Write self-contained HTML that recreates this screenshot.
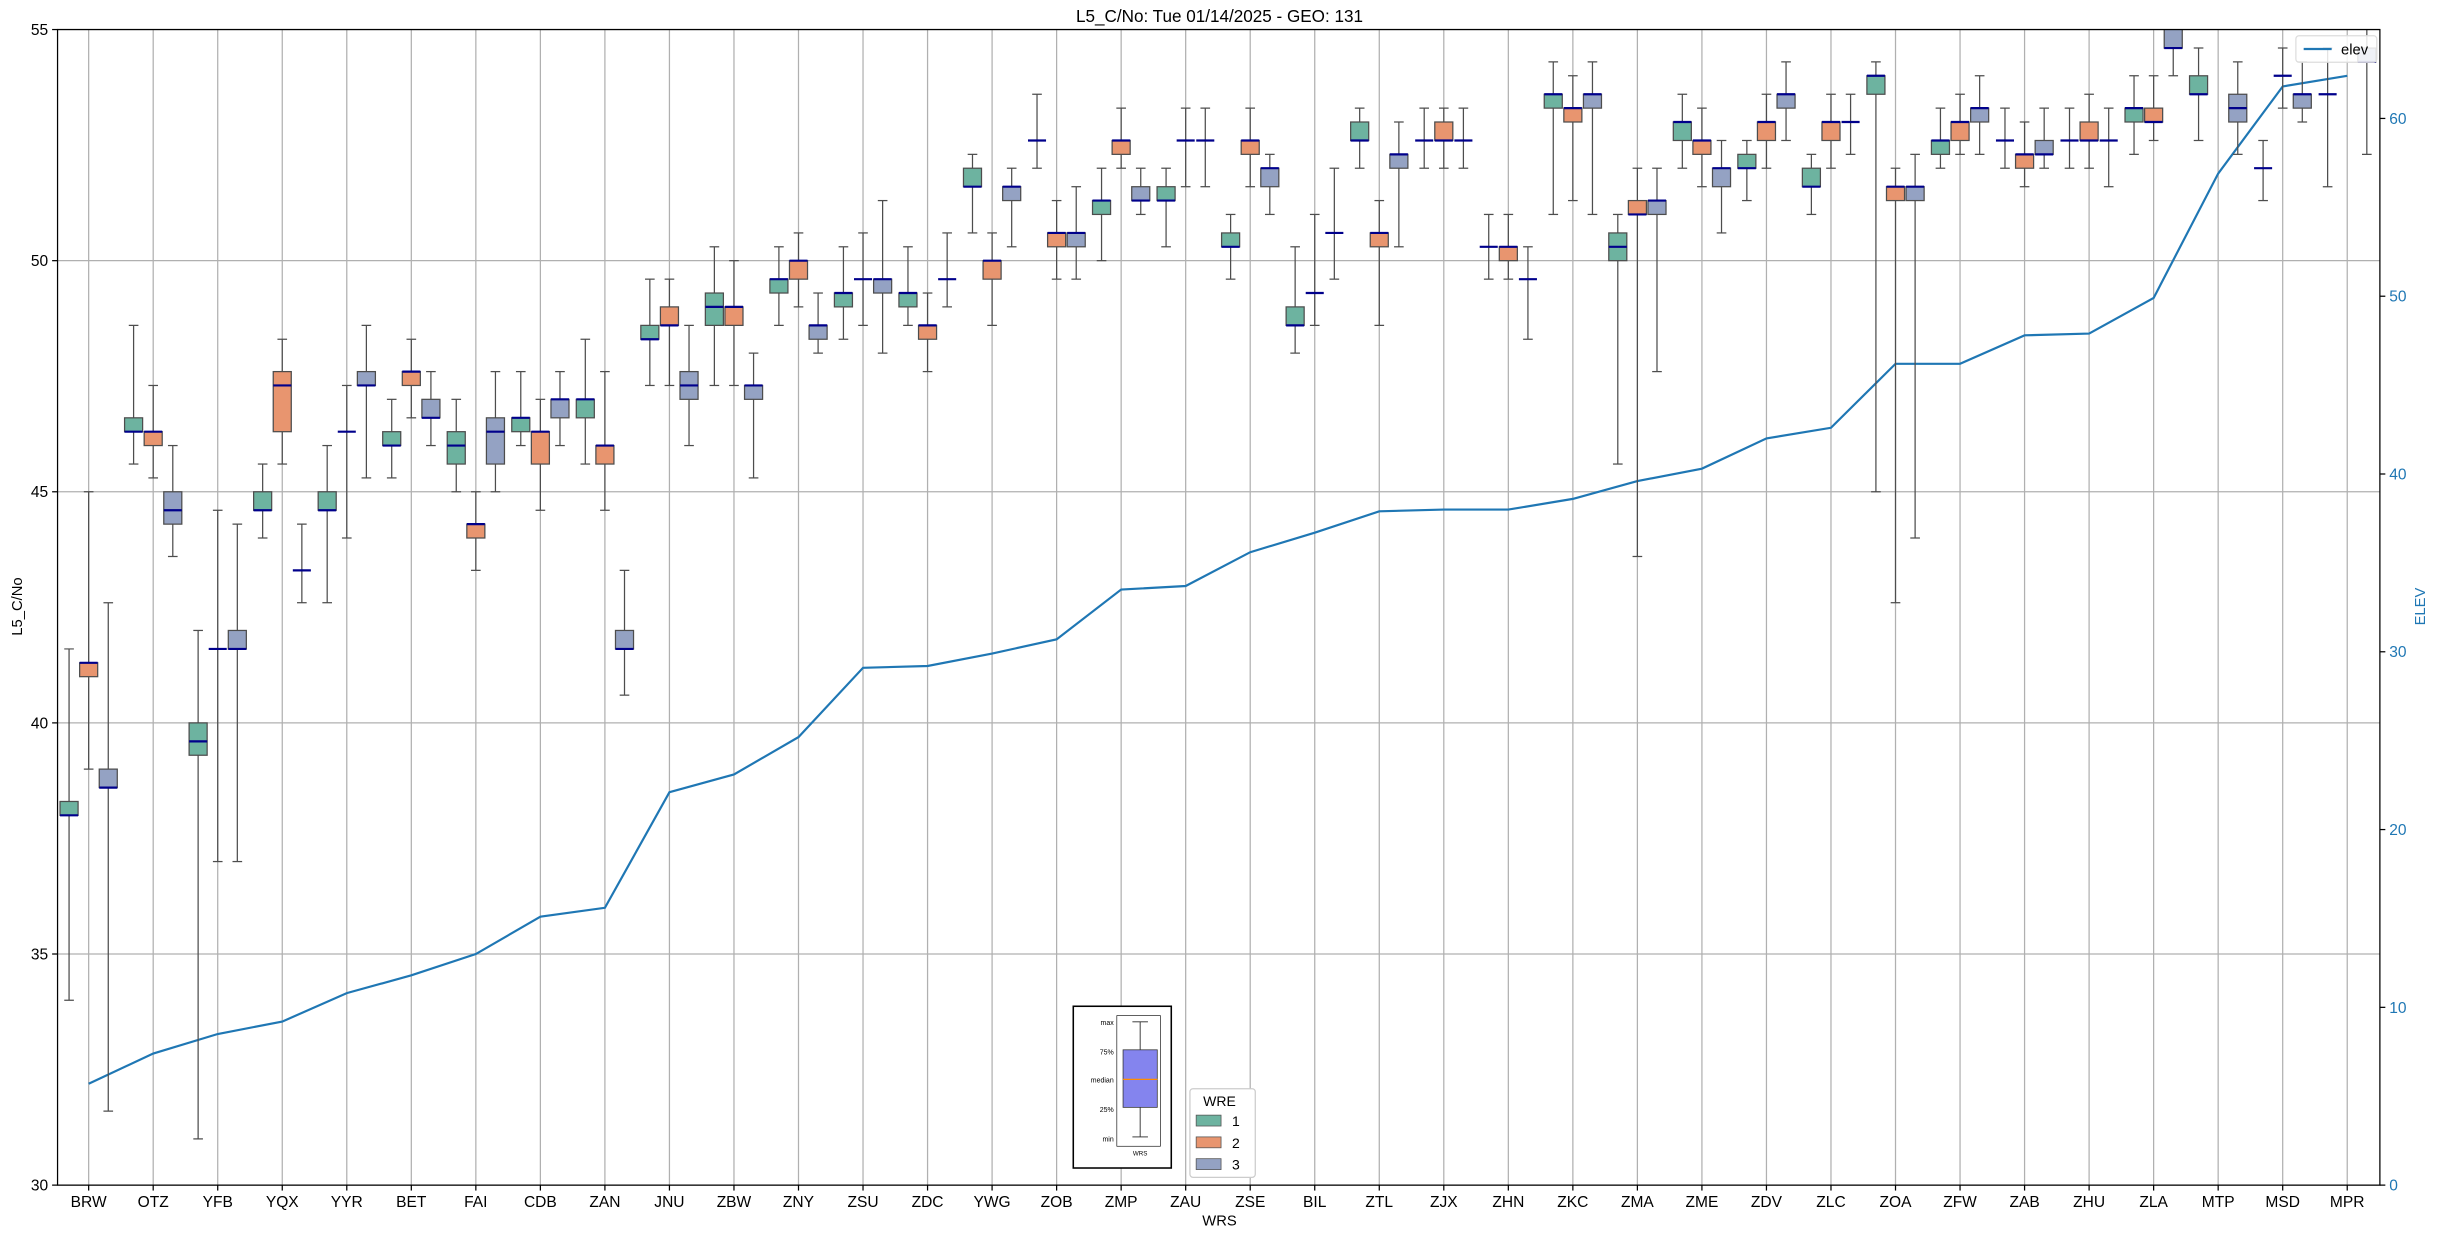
<!DOCTYPE html>
<html><head><meta charset="utf-8"><style>
html,body{margin:0;padding:0;background:#fff}
svg{display:block;font-family:"Liberation Sans","DejaVu Sans",sans-serif}
</style></head><body>
<svg id="chart" width="2439" height="1238" viewBox="0 0 1568 796" preserveAspectRatio="none" xmlns="http://www.w3.org/2000/svg">
<defs><clipPath id="plotclip"><rect x="37" y="19" width="1493" height="743"/></clipPath></defs>
<rect x="0" y="0" width="1568" height="796" fill="#fff"/>
<text x="784" y="14" font-size="11" text-anchor="middle">L5_C/No: Tue 01/14/2025 - GEO: 131</text>
<g id="grid"></g>
<g id="elevg" clip-path="url(#plotclip)"></g>
<g id="boxes" clip-path="url(#plotclip)"></g>
<rect x="37" y="19" width="1493" height="743" fill="none" stroke="#000" stroke-width="0.8"/>
<g id="axes"></g>
<text x="0" y="0" font-size="9.5" text-anchor="middle" transform="translate(14,390) rotate(-90)">L5_C/No</text>
<text x="784" y="788" font-size="9.5" text-anchor="middle">WRS</text>
<text x="0" y="0" font-size="9.5" fill="#1f77b4" text-anchor="middle" transform="translate(1559,390) rotate(-90)">ELEV</text>
<g>
<rect x="690" y="647" width="63" height="104" fill="#fff" stroke="#000" stroke-width="1"/>
<rect x="718" y="653" width="28" height="84" fill="none" stroke="#000" stroke-width="0.4"/>
<line x1="733" y1="657" x2="733" y2="675" stroke="#333" stroke-width="0.6"/>
<line x1="733" y1="712" x2="733" y2="731" stroke="#333" stroke-width="0.6"/>
<line x1="728" y1="657" x2="738" y2="657" stroke="#333" stroke-width="0.6"/>
<line x1="728" y1="731" x2="738" y2="731" stroke="#333" stroke-width="0.6"/>
<rect x="722" y="675" width="22" height="37" fill="#8484ee" stroke="#333" stroke-width="0.5"/>
<line x1="722" y1="694" x2="744" y2="694" stroke="#ff8c00" stroke-width="0.8"/>
<g font-size="4.5" text-anchor="end"><text x="716" y="659">max</text><text x="716" y="678">75%</text><text x="716" y="696">median</text><text x="716" y="715">25%</text><text x="716" y="734">min</text></g>
<text x="733" y="743" font-size="4" text-anchor="middle">WRS</text>
</g>
<g>
<rect x="765" y="700" width="42" height="57" rx="2" fill="#fff" stroke="#ccc" stroke-width="0.8"/>
<text x="784" y="711" font-size="9" text-anchor="middle">WRE</text>
<rect x="769" y="717" width="16" height="7" fill="#6db3a0" stroke="#555" stroke-width="0.5"/>
<text x="792" y="724" font-size="9">1</text>
<rect x="769" y="731" width="16" height="7" fill="#e8956f" stroke="#555" stroke-width="0.5"/>
<text x="792" y="738" font-size="9">2</text>
<rect x="769" y="745" width="16" height="7" fill="#94a2c3" stroke="#555" stroke-width="0.5"/>
<text x="792" y="752" font-size="9">3</text>
</g>
<g>
<rect x="1476" y="23" width="52" height="17" rx="2" fill="#fff" fill-opacity="0.85" stroke="#ddd" stroke-width="0.8"/>
<line x1="1481" y1="31.5" x2="1499" y2="31.5" stroke="#1f77b4" stroke-width="1.5"/>
<text x="1505" y="35" font-size="9.5">elev</text>
</g>
</svg>
<script>
const stations = ["BRW","OTZ","YFB","YQX","YYR","BET","FAI","CDB","ZAN","JNU","ZBW","ZNY","ZSU","ZDC","YWG","ZOB","ZMP","ZAU","ZSE","BIL","ZTL","ZJX","ZHN","ZKC","ZMA","ZME","ZDV","ZLC","ZOA","ZFW","ZAB","ZHU","ZLA","MTP","MSD","MPR"];
const elev = [5.7,7.4,8.5,9.2,10.8,11.8,13.0,15.1,15.6,22.1,23.1,25.2,29.1,29.2,29.9,30.7,33.5,33.7,35.6,36.7,37.9,38.0,38.0,38.6,39.6,40.3,42.0,42.6,46.2,46.2,47.8,47.9,49.9,56.9,61.8,62.4];
const wre1 = [[34.0,38.0,38.0,38.3,41.6],[45.6,46.3,46.3,46.6,48.6],[31.0,39.3,39.6,40.0,42.0],[44.0,44.6,44.6,45.0,45.6],[42.6,44.6,44.6,45.0,46.0],[45.3,46.0,46.0,46.3,47.0],[45.0,45.6,46.0,46.3,47.0],[46.0,46.3,46.6,46.6,47.6],[45.6,46.6,47.0,47.0,48.3],[47.3,48.3,48.3,48.6,49.6],[47.3,48.6,49.0,49.3,50.3],[48.6,49.3,49.6,49.6,50.3],[48.3,49.0,49.3,49.3,50.3],[48.6,49.0,49.3,49.3,50.3],[50.6,51.6,51.6,52.0,52.3],[52.0,52.6,52.6,52.6,53.6],[50.0,51.0,51.3,51.3,52.0],[50.3,51.3,51.3,51.6,52.0],[49.6,50.3,50.3,50.6,51.0],[48.0,48.6,48.6,49.0,50.3],[52.0,52.6,52.6,53.0,53.3],[52.0,52.6,52.6,52.6,53.3],[49.6,50.3,50.3,50.3,51.0],[51.0,53.3,53.6,53.6,54.3],[45.6,50.0,50.3,50.6,51.0],[52.0,52.6,53.0,53.0,53.6],[51.3,52.0,52.0,52.3,52.6],[51.0,51.6,51.6,52.0,52.3],[45.0,53.6,54.0,54.0,54.3],[52.0,52.3,52.6,52.6,53.3],[52.0,52.6,52.6,52.6,53.3],[52.0,52.6,52.6,52.6,53.3],[52.3,53.0,53.3,53.3,54.0],[52.6,53.6,53.6,54.0,54.6],[51.3,52.0,52.0,52.0,52.6],[51.6,53.6,53.6,53.6,54.6]];
const wre2 = [[39.0,41.0,41.3,41.3,45.0],[45.3,46.0,46.3,46.3,47.3],[37.0,41.6,41.6,41.6,44.6],[45.6,46.3,47.3,47.6,48.3],[44.0,46.3,46.3,46.3,47.3],[46.6,47.3,47.6,47.6,48.3],[43.3,44.0,44.3,44.3,45.0],[44.6,45.6,46.3,46.3,47.0],[44.6,45.6,46.0,46.0,47.6],[47.3,48.6,48.6,49.0,49.6],[47.3,48.6,49.0,49.0,50.0],[49.0,49.6,50.0,50.0,50.6],[48.6,49.6,49.6,49.6,50.6],[47.6,48.3,48.6,48.6,49.3],[48.6,49.6,50.0,50.0,50.6],[49.6,50.3,50.6,50.6,51.3],[52.0,52.3,52.6,52.6,53.3],[51.6,52.6,52.6,52.6,53.3],[51.6,52.3,52.6,52.6,53.3],[48.6,49.3,49.3,49.3,51.0],[48.6,50.3,50.6,50.6,51.3],[52.0,52.6,52.6,53.0,53.3],[49.6,50.0,50.3,50.3,51.0],[51.3,53.0,53.3,53.3,54.0],[43.6,51.0,51.0,51.3,52.0],[51.6,52.3,52.6,52.6,53.3],[52.0,52.6,53.0,53.0,53.6],[52.0,52.6,53.0,53.0,53.6],[42.6,51.3,51.6,51.6,52.0],[52.3,52.6,53.0,53.0,53.6],[51.6,52.0,52.3,52.3,53.0],[52.0,52.6,52.6,53.0,53.6],[52.6,53.0,53.0,53.3,54.0],null,[53.3,54.0,54.0,54.0,54.6],null];
const wre3 = [[31.6,38.6,38.6,39.0,42.6],[43.6,44.3,44.6,45.0,46.0],[37.0,41.6,41.6,42.0,44.3],[42.6,43.3,43.3,43.3,44.3],[45.3,47.3,47.3,47.6,48.6],[46.0,46.6,46.6,47.0,47.6],[45.0,45.6,46.3,46.6,47.6],[46.0,46.6,47.0,47.0,47.6],[40.6,41.6,41.6,42.0,43.3],[46.0,47.0,47.3,47.6,48.6],[45.3,47.0,47.3,47.3,48.0],[48.0,48.3,48.6,48.6,49.3],[48.0,49.3,49.6,49.6,51.3],[49.0,49.6,49.6,49.6,50.6],[50.3,51.3,51.6,51.6,52.0],[49.6,50.3,50.6,50.6,51.6],[51.0,51.3,51.3,51.6,52.0],[51.6,52.6,52.6,52.6,53.3],[51.0,51.6,52.0,52.0,52.3],[49.6,50.6,50.6,50.6,52.0],[50.3,52.0,52.3,52.3,53.0],[52.0,52.6,52.6,52.6,53.3],[48.3,49.6,49.6,49.6,50.3],[51.0,53.3,53.6,53.6,54.3],[47.6,51.0,51.3,51.3,52.0],[50.6,51.6,52.0,52.0,52.6],[52.6,53.3,53.6,53.6,54.3],[52.3,53.0,53.0,53.0,53.6],[44.0,51.3,51.6,51.6,52.3],[52.3,53.0,53.3,53.3,54.0],[52.0,52.3,52.3,52.6,53.3],[51.6,52.6,52.6,52.6,53.3],[54.0,54.6,54.6,55.3,55.6],[52.3,53.0,53.3,53.6,54.3],[53.0,53.3,53.6,53.6,54.3],[52.3,54.3,54.3,54.6,55.6]];
const yTicks = [30,35,40,45,50,55];
const elevTicks = [0,10,20,30,40,50,60];

const NS = "http://www.w3.org/2000/svg";
const L = 37, R = 1530, T = 19, B = 762;
function xPos(i){ return 57 + i * (1509 - 57) / 35; }
function yPos(v){ return B - (v - 30) / 25 * (B - T); }
function yElev(v){ return B - v / 65 * (B - T); }
function mk(tag, attrs, parent){
  const e = document.createElementNS(NS, tag);
  for (const k in attrs) e.setAttribute(k, attrs[k]);
  parent.appendChild(e);
  return e;
}
const grid = document.getElementById('grid');
const axes = document.getElementById('axes');
yTicks.forEach(v => {
  const g = mk('line', {x1:L, x2:R, y1:yPos(v), y2:yPos(v), stroke:'#b0b0b0', 'stroke-width':0.8}, grid);
  
  
  mk('line', {x1:L-3.5, x2:L, y1:yPos(v), y2:yPos(v), stroke:'#000', 'stroke-width':0.8}, axes);
  const t = mk('text', {x:L-6, y:yPos(v)+3.5, 'font-size':10, 'text-anchor':'end'}, axes);
  t.textContent = v;
  
  
});
elevTicks.forEach(v => {
  mk('line', {x1:R, x2:R+3.5, y1:yElev(v), y2:yElev(v), stroke:'#000', 'stroke-width':0.8}, axes);
  const t = mk('text', {x:R+6, y:yElev(v)+3.5, 'font-size':10, fill:'#1f77b4'}, axes);
  t.textContent = v;
  
  
});
stations.forEach((s, i) => {
  const g = mk('line', {x1:xPos(i), x2:xPos(i), y1:T, y2:B, stroke:'#b0b0b0', 'stroke-width':0.8}, grid);
  
  
  mk('line', {x1:xPos(i), x2:xPos(i), y1:B, y2:B+3.5, stroke:'#000', 'stroke-width':0.8}, axes);
  const t = mk('text', {x:xPos(i), y:B+14, 'font-size':10, 'text-anchor':'middle'}, axes);
  t.textContent = s;
  
  
});
// elevation line
const pts = elev.map((v, i) => xPos(i).toFixed(2) + ',' + yElev(v).toFixed(2)).join(' ');
const eline = mk('polyline', {points:pts, fill:'none', stroke:'#1f77b4', 'stroke-width':1.4}, document.getElementById('elevg'));


// boxes
const boxesG = document.getElementById('boxes');
const series = [wre1, wre2, wre3];
const colors = ['#6db3a0', '#e8956f', '#94a2c3'];
const offs = [-12.6, 0, 12.6];
const bw = 11.6, cw = 6.2;
series.forEach((ser, h) => {
  ser.forEach((d, i) => {
    if (!d) return;
    const cx = xPos(i) + offs[h];
    const g = mk('g', {}, boxesG);
    
    
    const st = {stroke:'#4d4d4d', 'stroke-width':0.8};
    mk('line', Object.assign({x1:cx, x2:cx, y1:yPos(d[4]), y2:yPos(d[3])}, st), g);
    mk('line', Object.assign({x1:cx, x2:cx, y1:yPos(d[1]), y2:yPos(d[0])}, st), g);
    mk('line', Object.assign({x1:cx-cw/2, x2:cx+cw/2, y1:yPos(d[4]), y2:yPos(d[4])}, st), g);
    mk('line', Object.assign({x1:cx-cw/2, x2:cx+cw/2, y1:yPos(d[0]), y2:yPos(d[0])}, st), g);
    if (d[3] > d[1]) {
      mk('rect', {x:cx-bw/2, y:yPos(d[3]), width:bw, height:yPos(d[1])-yPos(d[3]), fill:colors[h], stroke:'#4d4d4d', 'stroke-width':0.8}, g);
    }
    mk('line', {x1:cx-bw/2, x2:cx+bw/2, y1:yPos(d[2]), y2:yPos(d[2]), stroke:'#00008b', 'stroke-width':1.4}, g);
  });
});
</script>
</body></html>
